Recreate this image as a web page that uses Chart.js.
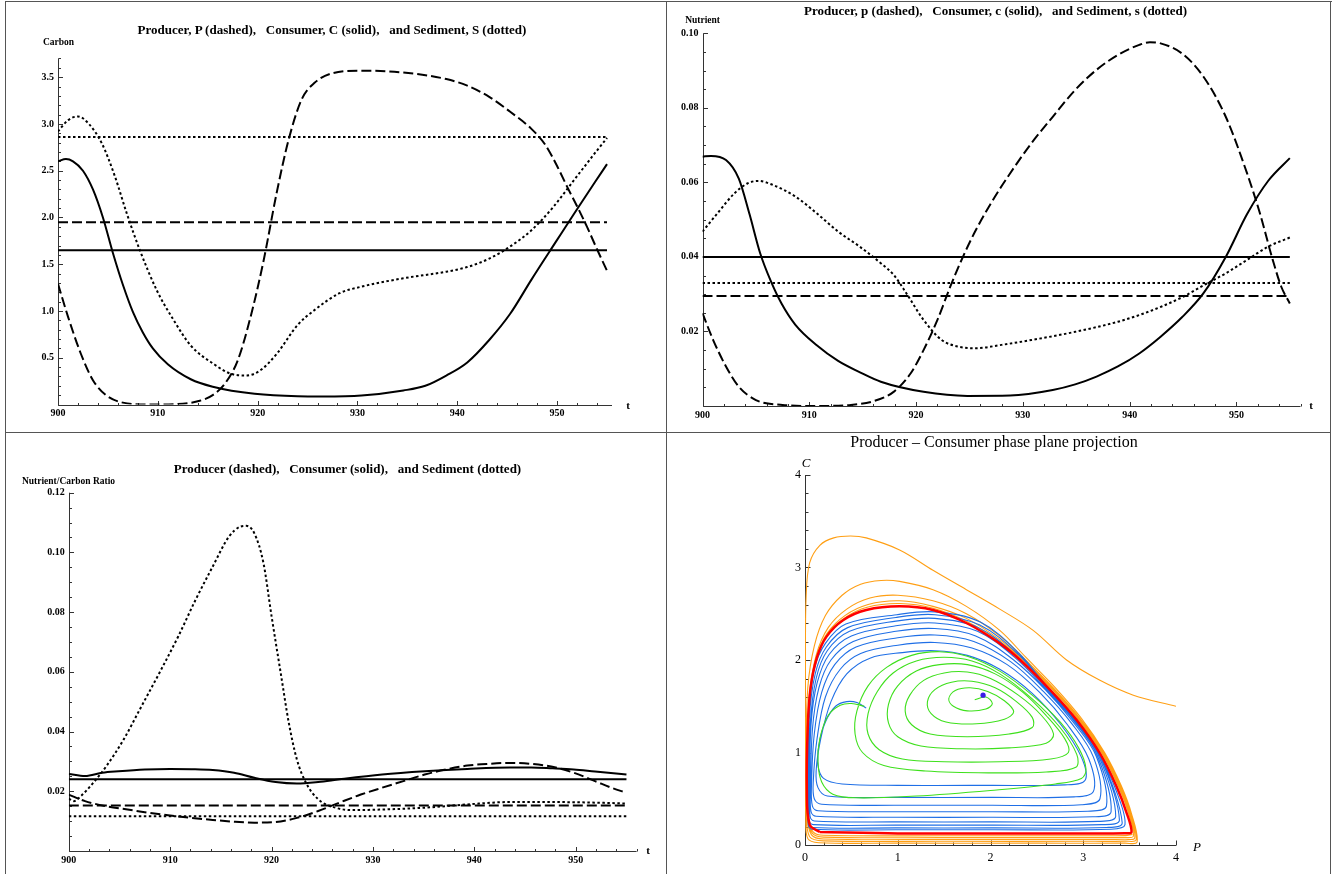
<!DOCTYPE html>
<html>
<head>
<meta charset="utf-8">
<script src="https://cdn.jsdelivr.net/npm/chart.js@4.4.1/dist/chart.umd.min.js"></script>
<style>
  body { margin: 0; background: #fff; }
  #page { position: relative; width: 1332px; height: 874px; overflow: hidden; font-family: 'Liberation Serif', 'Times New Roman', serif; color: #000; }
  canvas { position: absolute; }
  .rule { position: absolute; background: #555; }
  .txt { position: absolute; white-space: nowrap; transform: translate(-50%, -50%); line-height: 1; }
  .ttl { font-weight: bold; font-size: 13px; }
  .lab { font-weight: bold; font-size: 9.5px; }
  .tee { font-weight: bold; font-size: 11px; }
  .pp { font-size: 16px; }
  .it { font-style: italic; font-size: 13px; }
</style>
</head>
<body>
<div id="page">
  <canvas id="carbon" width="666" height="432" style="left:0;top:0"></canvas>
  <canvas id="nutrient" width="666" height="432" style="left:666px;top:0"></canvas>
  <canvas id="ratio" width="666" height="442" style="left:0;top:432px"></canvas>
  <canvas id="phase" width="666" height="442" style="left:666px;top:432px"></canvas>

  <div class="txt ttl" style="left:332px;top:29px">Producer, P (dashed),&nbsp;&nbsp; Consumer, C (solid),&nbsp;&nbsp; and Sediment, S (dotted)</div>
  <div class="txt lab" style="left:58.5px;top:42.7px">Carbon</div>
  <div class="txt tee" style="left:628px;top:405px">t</div>

  <div class="txt ttl" style="left:995.6px;top:9.5px">Producer, p (dashed),&nbsp;&nbsp; Consumer, c (solid),&nbsp;&nbsp; and Sediment, s (dotted)</div>
  <div class="txt lab" style="left:702.6px;top:21px">Nutrient</div>
  <div class="txt tee" style="left:1311px;top:405px">t</div>

  <div class="txt ttl" style="left:347.5px;top:468.3px">Producer (dashed),&nbsp;&nbsp; Consumer (solid),&nbsp;&nbsp; and Sediment (dotted)</div>
  <div class="txt lab" style="left:68.5px;top:481.7px">Nutrient/Carbon Ratio</div>
  <div class="txt tee" style="left:648px;top:850px">t</div>

  <div class="txt pp" style="left:994px;top:441.7px">Producer – Consumer phase plane projection</div>
  <div class="txt it" style="left:806px;top:461.7px">C</div>
  <div class="txt it" style="left:1197px;top:846px">P</div>

  <div class="rule" style="left:5px;top:1px;width:1327px;height:1px"></div>
  <div class="rule" style="left:5px;top:1px;width:1px;height:873px"></div>
  <div class="rule" style="left:1330px;top:1px;width:1px;height:873px"></div>
  <div class="rule" style="left:666px;top:1px;width:1px;height:873px"></div>
  <div class="rule" style="left:5px;top:432px;width:1326px;height:1px"></div>
</div>

<script>
// ---- time axis ----
const tTicks = [900, 910, 920, 930, 940, 950];
const tSpan = [900, 955];

// ---- carbon (top left) ----
const carbonTicks = [0.5, 1.0, 1.5, 2.0, 2.5, 3.0, 3.5];
const carbonP = [[900,1.29],[901,0.94],[902.3,0.54],[903.5,0.26],[904.8,0.10],[906.5,0.02],[909.1,0.0],[912,0.005],[914.2,0.04],[915.5,0.1],[916.7,0.22],[918,0.47],[919.3,0.94],[920.6,1.54],[921.9,2.26],[923.1,2.83],[924.4,3.26],[925.7,3.44],[927.4,3.54],[930.4,3.57],[934.6,3.55],[938.9,3.48],[941,3.41],[943.2,3.29],[945.3,3.13],[947.4,2.95],[948.8,2.78],[950,2.55],[951,2.33],[952,2.12],[953,1.9],[954,1.66],[955,1.43]];
const carbonC = [[900,2.60],[900.8,2.625],[901.5,2.60],[902.5,2.5],[903.5,2.3],[904.5,2.0],[905.5,1.62],[906.5,1.28],[907.5,0.99],[908.5,0.77],[909.5,0.6],[911,0.43],[913.3,0.27],[915.5,0.19],[919.7,0.114],[924,0.088],[926.5,0.086],[930.4,0.096],[934.6,0.15],[936.8,0.2],[938.9,0.31],[941,0.45],[943.2,0.69],[945.3,0.97],[947.4,1.33],[950,1.76],[951.7,2.04],[953.8,2.38],[955,2.57]];
const carbonS = [[900,2.92],[901,3.04],[902,3.08],[903.1,3.0],[904.4,2.79],[905.7,2.44],[906.9,2.04],[908.2,1.65],[909.9,1.22],[911.6,0.9],[913.3,0.63],[915.5,0.44],[917.6,0.32],[918.9,0.31],[920.2,0.36],[921.9,0.54],[924,0.85],[925.7,1.01],[928.2,1.19],[930.4,1.26],[934.6,1.35],[938.9,1.42],[941,1.47],[943.2,1.56],[945.3,1.69],[947.4,1.86],[949.6,2.11],[951.7,2.4],[953.8,2.69],[955,2.85]];
const carbonMeans = { P: 1.95, C: 1.65, S: 2.86 };

// ---- nutrient (top right) ----
const nutTicks = [0.02, 0.04, 0.06, 0.08, 0.10];
const nutP = [[900,0.0249],[901,0.0177],[902.2,0.0106],[903.4,0.0052],[905,0.0016],[907.5,0.0003],[910.7,0],[913.9,0.0003],[915.9,0.0012],[917.9,0.0038],[919.5,0.0088],[920.7,0.015],[922,0.0231],[923.2,0.032],[924.4,0.0401],[925.6,0.0472],[927.2,0.0553],[928.8,0.0624],[930.8,0.0705],[932.8,0.0776],[934.9,0.0848],[936.9,0.0902],[938.9,0.0942],[940.9,0.0969],[941.9,0.0976],[942.9,0.0973],[944.9,0.0946],[946.9,0.0884],[949,0.0776],[951,0.0624],[952.2,0.0517],[953.4,0.0392],[954.2,0.032],[955,0.0275]];
const nutC = [[900,0.0669],[900.8,0.0671],[902.2,0.066],[903.4,0.061],[904.4,0.0515],[905.4,0.041],[906.4,0.0335],[907.4,0.0275],[908.7,0.0218],[910.7,0.0163],[912.7,0.0121],[914.7,0.0091],[916.7,0.0065],[920.7,0.0038],[924.8,0.0027],[928.8,0.0028],[932.8,0.0043],[934.9,0.0058],[936.9,0.0079],[938.9,0.0106],[940.9,0.0141],[942.9,0.0186],[944.9,0.0238],[946.9,0.0302],[949,0.040],[951,0.0515],[953,0.0605],[955,0.0665]];
const nutS = [[900,0.0468],[901.4,0.0517],[903,0.0571],[904.2,0.0597],[905.2,0.0604],[906.6,0.0593],[908.7,0.0562],[910.7,0.0517],[912.7,0.0468],[914.7,0.0428],[916.7,0.0383],[917.9,0.0352],[919.1,0.0302],[920.7,0.0231],[922.4,0.0177],[924,0.0159],[925.6,0.0155],[928,0.0164],[930.8,0.0177],[934.9,0.0199],[938.9,0.0226],[940.9,0.0244],[943,0.0267],[945,0.0293],[947,0.0325],[949,0.0356],[951,0.0392],[953,0.0428],[955,0.0452]];
const nutMeans = { P: 0.0295, C: 0.040, S: 0.033 };

// ---- nutrient / carbon ratio (bottom left) ----
const ratioTicks = [0.02, 0.04, 0.06, 0.08, 0.10, 0.12];
const ratioP = [[900,0.0189],[901.6,0.0167],[903.7,0.015],[905.8,0.0139],[907.9,0.0128],[910,0.0119],[912.1,0.0111],[914.2,0.0104],[916.3,0.0098],[918.3,0.0095],[920.4,0.0097],[922.5,0.0111],[924.6,0.0134],[926.7,0.0162],[928.8,0.0189],[930.9,0.0212],[933,0.0234],[935.1,0.0256],[937.2,0.0273],[939.3,0.0286],[941.4,0.0292],[943.5,0.0295],[945.6,0.0292],[947.7,0.0282],[949.8,0.0262],[951.9,0.0234],[953.5,0.0212],[955,0.0195]];
const ratioC = [[900,0.0258],[901.6,0.0251],[903.3,0.0262],[904.9,0.0267],[907.5,0.0273],[910,0.0275],[912.1,0.0274],[914.2,0.0271],[916.3,0.0262],[918.3,0.0245],[920.4,0.0231],[922.5,0.0226],[924.6,0.0231],[926.7,0.024],[930.9,0.0256],[935.1,0.0267],[939.3,0.0275],[943.5,0.028],[945.6,0.028],[947.7,0.0277],[949.8,0.0273],[951.9,0.0266],[955,0.0256]];
const ratioS = [[900,0.0175],[900.5,0.0167],[901.2,0.0184],[902.4,0.0228],[903.7,0.0284],[905.4,0.0373],[907,0.0474],[909.1,0.0607],[910.8,0.0719],[912.5,0.0841],[914.2,0.0953],[915.8,0.1053],[916.9,0.1086],[917.5,0.1089],[918.3,0.1064],[919.2,0.0964],[920,0.0786],[920.9,0.0596],[921.7,0.0429],[922.5,0.0306],[923.4,0.0228],[924.6,0.0173],[926.3,0.0145],[928,0.0137],[930.9,0.0139],[935.1,0.0145],[939.3,0.0156],[943.5,0.0164],[947.7,0.0164],[951.9,0.0162],[955,0.0159]];
const ratioMeans = { P: 0.0152, C: 0.024, S: 0.0116 };

// ---- phase plane (bottom right), [P, C] ----
const phaseTicks = [0, 1, 2, 3, 4];
const orangeTraj = [
  [4.0,1.5],[3.54,1.62],[3.18,1.78],[2.82,2.0],[2.46,2.32],[2.10,2.55],[1.74,2.76],[1.38,2.97],[1.02,3.19],[0.66,3.32],[0.49,3.34],[0.31,3.32],[0.16,3.24],[0.05,3.05],[0.012,2.68],[0.005,2.0],[0.005,1.0],[0.008,0.3],[0.03,0.07],[0.15,0.025],[1.0,0.02],[2.5,0.02],[3.45,0.02],[3.58,0.03],
  [3.52,0.34],[3.41,0.64],[3.23,1.0],[2.98,1.37],[2.69,1.71],[2.38,2.03],[2.1,2.32],[1.74,2.58],[1.38,2.76],[1.02,2.85],[0.82,2.86],[0.6,2.82],[0.4,2.7],[0.22,2.48],[0.1,2.15],[0.03,1.7],[0.012,1.0],[0.015,0.35],[0.05,0.09],[0.2,0.045],[1.5,0.04],[3.0,0.04],[3.45,0.042],[3.57,0.055],
  [3.51,0.34],[3.4,0.635],[3.22,0.995],[2.97,1.36],[2.68,1.695],[2.36,2.02],[2.1,2.26],[1.74,2.5],[1.38,2.64],[1.0,2.70],[0.7,2.67],[0.45,2.55],[0.25,2.35],[0.12,2.05],[0.045,1.6],[0.018,0.9],[0.022,0.32],[0.07,0.11],[0.2,0.065],[1.5,0.06],[3.0,0.06],[3.45,0.062],[3.555,0.075],
  [3.5,0.34],[3.39,0.633],[3.21,0.993],[2.96,1.355],[2.67,1.69],[2.35,2.01],[2.1,2.22],[1.74,2.45],[1.38,2.58],[1.02,2.64],[0.68,2.6],[0.43,2.48],[0.24,2.29],[0.13,2.04],[0.05,1.6],[0.022,0.9],[0.026,0.3],[0.08,0.125],[0.2,0.085],[1.5,0.08],[3.0,0.08],[3.45,0.082],[3.54,0.095],
  [3.49,0.34],[3.38,0.632],[3.2,0.992],[2.95,1.353],[2.66,1.687],[2.34,2.005],[2.1,2.2],[1.74,2.42],[1.38,2.56],[1.02,2.61],[0.67,2.57],[0.42,2.45],[0.235,2.27],[0.13,2.03],[0.055,1.65],[0.025,0.9],[0.03,0.28],[0.09,0.14],[0.2,0.105],[1.5,0.1],[3.0,0.1],[3.45,0.102],[3.53,0.115]
];
const blueTraj = [
  [0.66,1.48],[0.56,1.54],[0.45,1.55],[0.33,1.5],[0.22,1.33],[0.15,1.08],[0.14,0.86],[0.2,0.72],[0.4,0.66],
  [1.0,0.645],[2.0,0.645],[2.8,0.65],[3.02,0.7],[2.98,0.95],[2.76,1.3],[2.45,1.64],
  [2.1,1.9],[1.75,2.05],[1.4,2.1],[1.05,2.08],[0.7,2.02],[0.45,1.85],[0.28,1.55],[0.17,1.15],[0.12,0.8],[0.14,0.62],[0.24,0.53],
  [1.0,0.515],[2.0,0.515],[2.9,0.52],[3.11,0.58],[3.06,0.93],[2.83,1.3],[2.53,1.65],
  [2.18,1.95],[1.8,2.13],[1.4,2.19],[1.0,2.16],[0.6,2.07],[0.38,1.9],[0.22,1.6],[0.13,1.15],[0.09,0.7],[0.1,0.5],[0.18,0.44],
  [1.0,0.43],[2.0,0.43],[2.98,0.435],[3.18,0.5],[3.11,0.95],[2.87,1.32],[2.57,1.66],
  [2.22,1.98],[1.82,2.2],[1.4,2.27],[1.0,2.24],[0.55,2.14],[0.32,1.95],[0.18,1.65],[0.1,1.2],[0.07,0.65],[0.08,0.42],[0.14,0.37],
  [1.0,0.36],[2.0,0.36],[3.05,0.365],[3.25,0.42],[3.14,0.96],[2.89,1.33],[2.6,1.67],
  [2.25,2.0],[1.84,2.26],[1.4,2.34],[0.98,2.31],[0.52,2.2],[0.28,2.0],[0.15,1.7],[0.08,1.25],[0.06,0.6],[0.065,0.36],[0.12,0.31],
  [1.0,0.3],[2.0,0.3],[3.1,0.305],[3.3,0.36],[3.15,0.97],[2.9,1.34],[2.61,1.67],
  [2.27,2.02],[1.86,2.31],[1.4,2.4],[0.98,2.37],[0.5,2.26],[0.26,2.06],[0.13,1.75],[0.065,1.3],[0.05,0.6],[0.055,0.31],[0.1,0.26],
  [1.0,0.25],[2.0,0.25],[3.16,0.255],[3.35,0.31],[3.16,0.98],[2.91,1.345],[2.62,1.675],
  [2.28,2.04],[1.87,2.35],[1.4,2.45],[0.98,2.42],[0.48,2.31],[0.24,2.1],[0.12,1.8],[0.055,1.3],[0.04,0.6],[0.045,0.27],[0.09,0.22],
  [1.0,0.215],[2.0,0.215],[3.2,0.22],[3.39,0.27],[3.17,0.985],[2.92,1.348],[2.63,1.678],
  [2.3,2.06],[1.88,2.38],[1.4,2.49],[0.98,2.46],[0.46,2.35],[0.23,2.14],[0.11,1.85],[0.045,1.35],[0.035,0.6],[0.04,0.24],[0.08,0.19],
  [1.0,0.185],[2.0,0.185],[3.25,0.19],[3.42,0.24],[3.175,0.988],[2.925,1.35],[2.635,1.68],
  [2.31,2.07],[1.89,2.41],[1.4,2.52],[0.99,2.49],[0.44,2.39],[0.22,2.18],[0.1,1.9],[0.04,1.4],[0.03,0.6],[0.035,0.22],[0.075,0.17],
  [1.0,0.165],[2.0,0.165],[3.3,0.17],[3.45,0.22],[3.35,0.6],[3.17,0.98],[2.93,1.35],[2.64,1.68],[2.32,2.0],[2.1,2.17]
];
const greenTraj = [
  [0.64,1.50],[0.50,1.53],[0.38,1.51],[0.25,1.40],[0.16,1.15],[0.14,0.90],[0.18,0.68],[0.30,0.55],[0.55,0.51],[1.2,0.53],[2.0,0.59],[2.7,0.66],[2.98,0.72],[3.03,0.82],[2.95,1.05],[2.75,1.33],[2.45,1.62],[2.1,1.88],[1.75,2.04],[1.45,2.09],[1.15,2.05],[0.88,1.92],[0.68,1.72],[0.56,1.45],[0.54,1.20],[0.62,1.0],[0.85,0.86],[1.3,0.8],[2.0,0.78],[2.6,0.79],[2.92,0.84],[2.93,0.98],[2.75,1.27],[2.45,1.58],[2.1,1.85],[1.8,1.99],[1.5,2.03],[1.2,1.99],[0.95,1.86],[0.78,1.66],[0.68,1.42],[0.68,1.20],[0.8,1.03],[1.05,0.93],[1.5,0.9],[2.1,0.9],[2.65,0.93],[2.84,1.0],[2.8,1.15],[2.6,1.4],[2.35,1.65],[2.05,1.85],[1.75,1.95],[1.45,1.95],[1.2,1.88],[1.0,1.72],[0.9,1.52],[0.9,1.32],[1.0,1.17],[1.25,1.07],[1.7,1.04],[2.2,1.05],[2.6,1.1],[2.68,1.2],[2.55,1.4],[2.3,1.62],[2.0,1.8],[1.75,1.87],[1.5,1.86],[1.28,1.78],[1.13,1.62],[1.08,1.45],[1.15,1.3],[1.35,1.2],[1.75,1.17],[2.2,1.2],[2.45,1.27],[2.45,1.38],[2.28,1.55],[2.05,1.7],[1.8,1.77],[1.58,1.76],[1.4,1.68],[1.32,1.55],[1.36,1.42],[1.52,1.33],[1.85,1.31],[2.15,1.36],[2.25,1.44],[2.15,1.56],[1.97,1.66],[1.78,1.7],[1.62,1.67],[1.55,1.58],[1.6,1.5],[1.75,1.45],[1.95,1.47],[2.02,1.53],[1.95,1.6],[1.83,1.57]
];
const limitCycle = [[0.16,0.14],[1.0,0.125],[2.0,0.125],[3.0,0.125],[3.45,0.128],[3.52,0.14],[3.47,0.34],[3.36,0.63],[3.18,0.99],[2.93,1.35],[2.64,1.68],[2.32,2.0],[2.10,2.18],[1.74,2.40],[1.38,2.54],[1.02,2.58],[0.66,2.54],[0.41,2.43],[0.23,2.25],[0.13,2.03],[0.06,1.7],[0.03,1.28],[0.02,0.6],[0.05,0.22],[0.16,0.14]];
const equilibrium = [[1.92, 1.62]];

const SERIF = "'Liberation Serif', 'Times New Roman', serif";
const DASHED = [10, 4];
const DOTTED = [2.5, 2.5];
const boldTick = { family: SERIF, size: 10, weight: 'bold' };

// Mathematica-style axes crossing at the origin, ticks pointing inward
const mmaAxes = {
  id: 'mmaAxes',
  beforeDatasetsDraw(chart, args, o) {
    const { ctx } = chart;
    const xs = chart.scales.x, ys = chart.scales.y;
    const x0 = Math.round(xs.getPixelForValue(o.x0)) + 0.5;
    const y0 = Math.round(ys.getPixelForValue(o.y0)) + 0.5;
    ctx.save();
    ctx.strokeStyle = o.color;
    ctx.lineWidth = 1;
    ctx.beginPath();
    ctx.moveTo(x0, y0); ctx.lineTo(xs.right, y0);
    ctx.moveTo(x0, y0); ctx.lineTo(x0, ys.top);
    for (let v = o.x0; v <= xs.max + 1e-9; v += o.xMinor) {
      const px = Math.round(xs.getPixelForValue(v)) + 0.5;
      const len = o.xMajor.some(m => Math.abs(m - v) < 1e-6) ? o.major : o.minor;
      ctx.moveTo(px, y0); ctx.lineTo(px, y0 - len);
    }
    for (let v = o.y0; v <= ys.max + 1e-9; v += o.yMinor) {
      const py = Math.round(ys.getPixelForValue(v)) + 0.5;
      const len = o.yMajor.some(m => Math.abs(m - v) < 1e-6) ? o.major : o.minor;
      ctx.moveTo(x0, py); ctx.lineTo(x0 + len, py);
    }
    ctx.stroke();
    ctx.restore();
  }
};

function curve(points, dash) {
  return {
    data: points.map(([x, y]) => ({ x, y })),
    borderColor: '#000',
    borderWidth: 2,
    borderDash: dash,
    pointRadius: 0,
    cubicInterpolationMode: 'monotone',
    fill: false
  };
}

function level(v, dash) {
  return curve(tSpan.map(t => [t, v]), dash);
}

function timeChart(id, o) {
  return new Chart(document.getElementById(id).getContext('2d'), {
    type: 'line',
    data: { datasets: o.datasets },
    options: {
      responsive: false,
      animation: false,
      events: [],
      layout: { padding: o.pad },
      plugins: {
        legend: { display: false },
        tooltip: { enabled: false },
        mmaAxes: {
          x0: 900, y0: 0, color: '#333', major: 4.5, minor: 2.5,
          xMajor: tTicks, xMinor: 2, yMajor: o.yTicks, yMinor: o.yMinor
        }
      },
      scales: {
        x: {
          type: 'linear', min: 900, max: o.xMax,
          afterBuildTicks: s => { s.ticks = tTicks.map(v => ({ value: v })); },
          afterFit: s => { s.height = 20; },
          grid: { display: false, drawTicks: false },
          border: { display: false },
          ticks: { autoSkip: false, maxRotation: 0, padding: 3, color: '#000', font: boldTick, callback: v => String(v) }
        },
        y: {
          type: 'linear', min: 0, max: o.yMax,
          afterBuildTicks: s => { s.ticks = o.yTicks.map(v => ({ value: v })); },
          afterFit: s => { s.width = o.yWidth; },
          grid: { display: false, drawTicks: false },
          border: { display: false },
          ticks: { autoSkip: false, padding: 4, color: '#000', font: boldTick, callback: v => v.toFixed(o.digits) }
        }
      }
    },
    plugins: [mmaAxes]
  });
}

timeChart('carbon', {
  xMax: 955.5, yMax: 3.7, yTicks: carbonTicks, yMinor: 0.1, digits: 1, yWidth: 50,
  pad: { left: 8, right: 54, top: 58.5, bottom: 7.5 },
  datasets: [
    curve(carbonP, DASHED), curve(carbonC, []), curve(carbonS, DOTTED),
    level(carbonMeans.P, DASHED), level(carbonMeans.C, []), level(carbonMeans.S, DOTTED)
  ]
});

timeChart('nutrient', {
  xMax: 956, yMax: 0.1, yTicks: nutTicks, yMinor: 0.005, digits: 2, yWidth: 30,
  pad: { left: 6.5, right: 31.5, top: 33.3, bottom: 6 },
  datasets: [
    curve(nutP, DASHED), curve(nutC, []), curve(nutS, DOTTED),
    level(nutMeans.P, DASHED), level(nutMeans.C, []), level(nutMeans.S, DOTTED)
  ]
});

timeChart('ratio', {
  xMax: 956, yMax: 0.12, yTicks: ratioTicks, yMinor: 0.005, digits: 2, yWidth: 50,
  pad: { left: 18.8, right: 29.4, top: 60.7, bottom: 3 },
  datasets: [
    curve(ratioP, DASHED), curve(ratioC, []), curve(ratioS, DOTTED),
    level(ratioMeans.P, DASHED), level(ratioMeans.C, []), level(ratioMeans.S, DOTTED)
  ]
});

function traj(points, color, width, order) {
  return {
    data: points.map(([x, y]) => ({ x, y })),
    showLine: true,
    borderColor: color,
    borderWidth: width,
    pointRadius: 0,
    tension: 0.35,
    fill: false,
    order
  };
}

const plainTick = { family: SERIF, size: 12 };

new Chart(document.getElementById('phase').getContext('2d'), {
  type: 'scatter',
  data: {
    datasets: [
      traj(orangeTraj, '#ff9f14', 1.1, 4),
      traj(blueTraj, '#1f6fe6', 1.1, 3),
      traj(greenTraj, '#3ee01c', 1.1, 2),
      traj(limitCycle, '#ff0000', 2.5, 1),
      {
        data: equilibrium.map(([x, y]) => ({ x, y })),
        pointRadius: 2.6,
        pointBackgroundColor: '#3a1ee6',
        pointBorderWidth: 0,
        order: 0
      }
    ]
  },
  options: {
    responsive: false,
    animation: false,
    events: [],
    layout: { padding: { left: 99, right: 156, top: 43, bottom: 9 } },
    plugins: {
      legend: { display: false },
      tooltip: { enabled: false },
      mmaAxes: {
        x0: 0, y0: 0, color: '#333', major: 5, minor: 3,
        xMajor: phaseTicks, xMinor: 0.2, yMajor: phaseTicks, yMinor: 0.2
      }
    },
    scales: {
      x: {
        type: 'linear', min: 0, max: 4,
        afterBuildTicks: s => { s.ticks = phaseTicks.map(v => ({ value: v })); },
        afterFit: s => { s.height = 20; },
        grid: { display: false, drawTicks: false },
        border: { display: false },
        ticks: { autoSkip: false, maxRotation: 0, padding: 6, color: '#000', font: plainTick, callback: v => String(v) }
      },
      y: {
        type: 'linear', min: 0, max: 4,
        afterBuildTicks: s => { s.ticks = phaseTicks.map(v => ({ value: v })); },
        afterFit: s => { s.width = 40; },
        grid: { display: false, drawTicks: false },
        border: { display: false },
        ticks: { autoSkip: false, padding: 4, color: '#000', font: plainTick, callback: v => String(v) }
      }
    }
  },
  plugins: [mmaAxes]
});
</script>
</body>
</html>
